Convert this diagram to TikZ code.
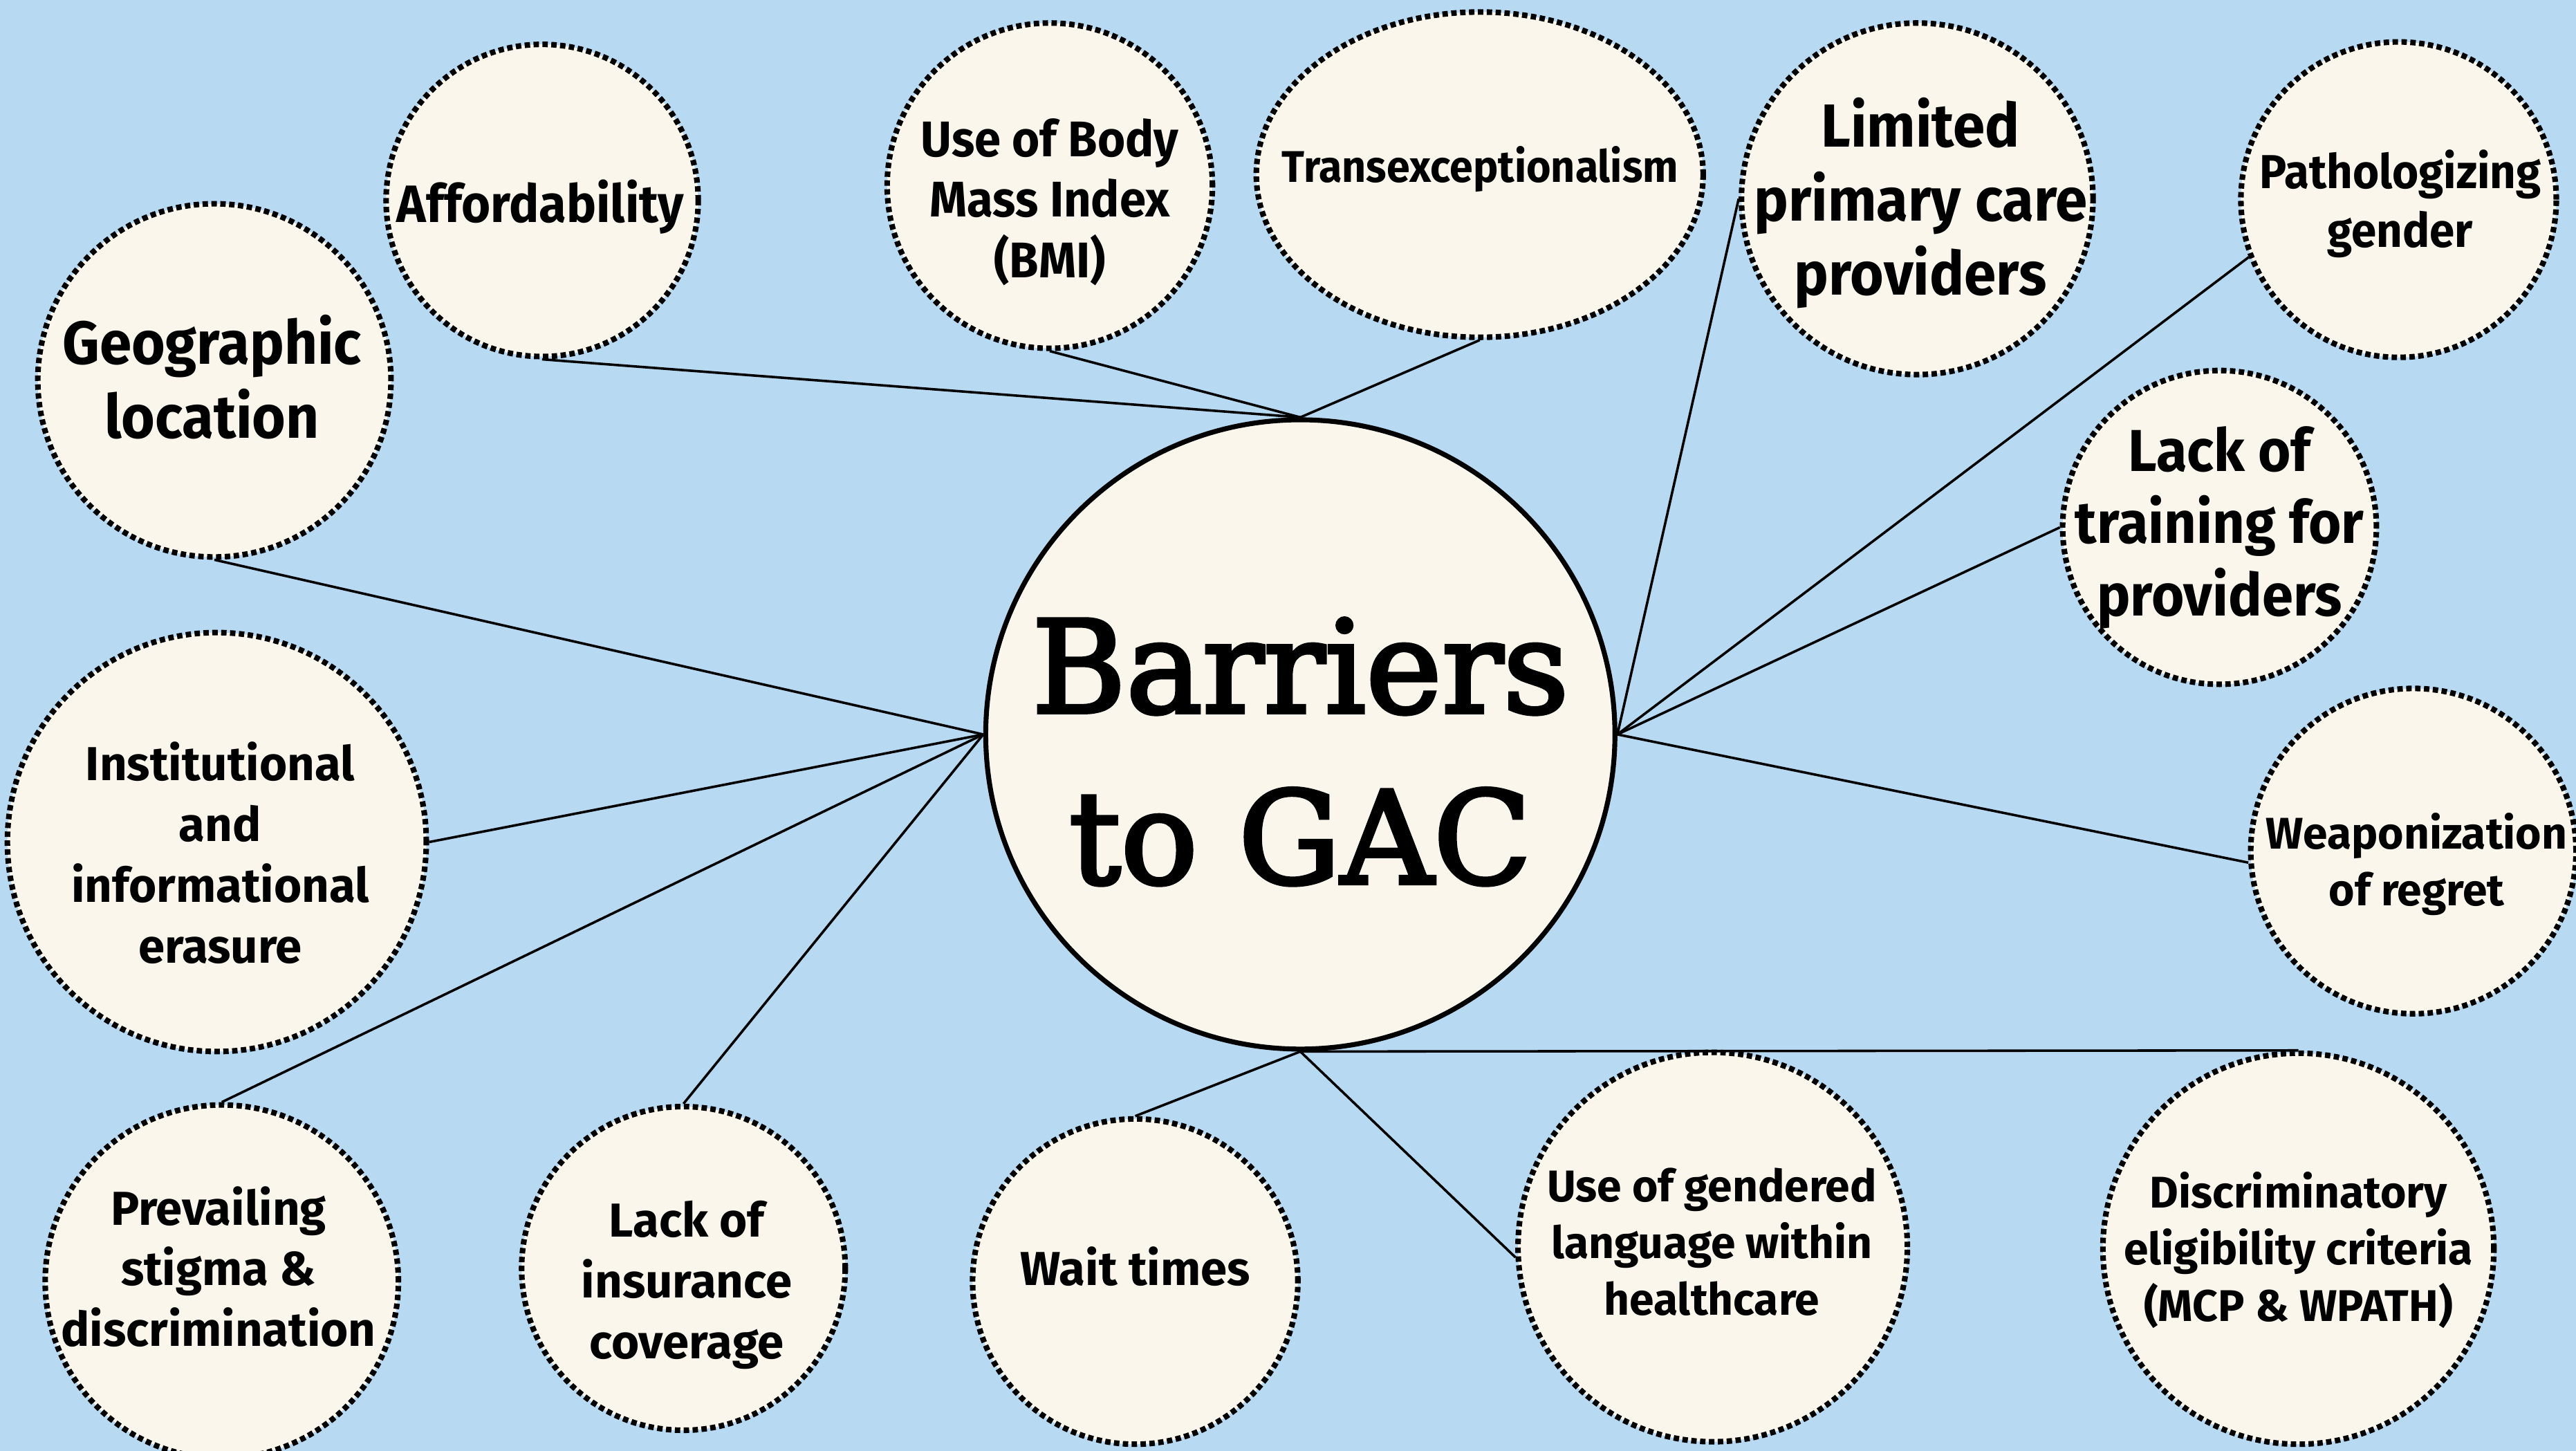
\documentclass[tikz,border=0pt]{standalone}
\usepackage{fontspec}
\setmainfont{Fira Sans}
\newfontfamily\condf[FakeStretch=0.95]{Fira Sans}
\newfontfamily\serf[FakeBold=3]{DejaVu Serif}
\usetikzlibrary{shapes.geometric}
\definecolor{bg}{RGB}{183,217,241}
\definecolor{cream}{RGB}{250,246,236}
\tikzset{
  bubble/.style={circle, draw=black, fill=cream, line width=3.4pt, dash pattern=on 3.3pt off 2.1pt, inner sep=0pt},
  conn/.style={draw=black, line width=1.5pt},
  txt/.style={align=center, inner sep=0pt},
  bigl/.style={txt, font=\condf\bfseries\fontsize{37}{45}\selectfont},
  condl/.style={txt, font=\condf\bfseries\fontsize{30.5}{37}\selectfont},
  regl/.style={txt, font=\bfseries\fontsize{29}{37}\selectfont},
  smalll/.style={txt, font=\bfseries\fontsize{27}{34.5}\selectfont},
}
\begin{document}
\begin{tikzpicture}[x=1pt,y=-1pt]
\fill[bg] (0,0) rectangle (1568,883);
\useasboundingbox (0,0) rectangle (1568,883);

% central node
\node[circle, draw=black, fill=cream, line width=3pt, minimum size=383pt, inner sep=0pt] (c) at (791.5,447) {};
\node[txt, font=\serf\fontsize{78}{104}\selectfont] (ct) at (791.5,457.5) {Barriers\\to GAC};

% bubbles
\node[bubble, minimum size=190pt] (aff) at (330,122) {};
\node[bubble, minimum size=215pt] (geo) at (130.5,231.5) {};
\node[bubble, minimum size=198pt] (bmi) at (639,113) {};
\node[bubble, ellipse, minimum width=272pt, minimum height=198pt] (trans) at (900.7,106.3) {};
\node[bubble, minimum size=214pt] (lim) at (1167,121) {};
\node[bubble, minimum size=192pt] (pat) at (1460,121.5) {};
\node[bubble, minimum size=191pt] (tra) at (1351,321) {};
\node[bubble, minimum size=198pt] (wea) at (1469,518) {};
\node[bubble, minimum size=238pt] (dis) at (1399,760) {};
\node[bubble, minimum size=237pt] (gen) at (1042.5,759) {};
\node[bubble, minimum size=198pt] (wai) at (691,780) {};
\node[bubble, minimum size=197pt] (ins) at (416,772) {};
\node[bubble, minimum size=215pt] (pre) at (135,780) {};
\node[bubble, minimum size=255pt] (inst) at (132,512.5) {};

% labels
\node[condl, font=\condf\bfseries\fontsize{32}{37}\selectfont] (taff) at (329,126) {Affordability};
\node[bigl] (tgeo) at (129,229.5) {Geographic\\location};
\node[condl] (tbmi) at (639,123) {Use of Body\\Mass Index\\(BMI)};
\node[condl, font=\condf\bfseries\fontsize{27}{34}\selectfont] (ttrans) at (901,103) {Transexceptionalism};
\node[bigl] (tlim) at (1169,123.5) {Limited\\primary care\\providers};
\node[condl, font=\condf\bfseries\fontsize{29}{36}\selectfont] (tpat) at (1461,124) {Pathologizing\\gender};
\node[bigl, font=\condf\bfseries\fontsize{36}{44}\selectfont] (ttra) at (1351,321) {Lack of\\training for\\providers};
\node[smalll] (twea) at (1471,526) {Weaponization\\of regret};
\node[smalll] (tdis) at (1399,761) {Discriminatory\\eligibility criteria\\(MCP \& WPATH)};
\node[smalll] (tgen) at (1042,756) {Use of gendered\\language within\\healthcare};
\node[regl] (twai) at (691,771) {Wait times};
\node[regl] (tins) at (418,782) {Lack of\\insurance\\coverage};
\node[regl] (tpre) at (133,771) {Prevailing\\stigma \&\\discrimination};
\node[regl] (tinst) at (134,519) {Institutional\\and\\informational\\erasure};

% connectors
\draw[conn] (geo.south) -- (c.west);
\draw[conn] (aff.south) -- (c.north);
\draw[conn] (bmi.south) -- (c.north);
\draw[conn] (trans.south) -- (c.north);
\draw[conn] (lim.west) -- (c.east);
\draw[conn] (pat.201) -- (c.east);
\draw[conn] (tra.west) -- (c.east);
\draw[conn] (wea.184) -- (c.east);
\draw[conn] (c.south) -- (dis.north);
\draw[conn] (c.south) -- (gen.183);
\draw[conn] (c.south) -- (wai.north);
\draw[conn] (ins.north) -- (c.west);
\draw[conn] (pre.north) -- (c.west);
\draw[conn] (inst.east) -- (c.west);
\end{tikzpicture}
\end{document}
